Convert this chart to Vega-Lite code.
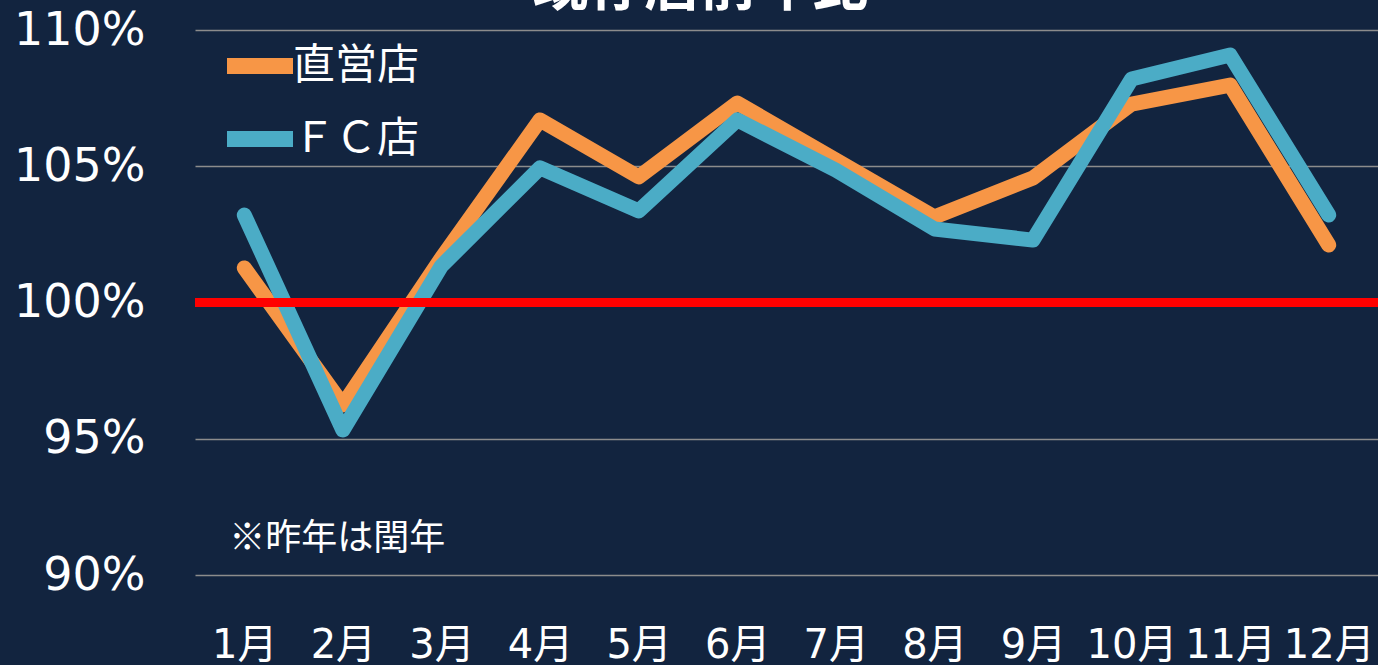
{
  "$schema": "https://vega.github.io/schema/vega-lite/v6.json",
  "autosize": {"type": "none"},
  "width": 1183,
  "height": 545,
  "padding": {"left": 195, "top": 30, "right": 0, "bottom": 90},
  "background": "#12243F",
  "config": {
    "view": {"stroke": null},
    "font": "DejaVu Sans, Noto Sans CJK JP"
  },
  "data": {
    "values": [
      {"month": "1月", "series": "直営店", "ratio": 1.0127},
      {"month": "2月", "series": "直営店", "ratio": 0.9624},
      {"month": "3月", "series": "直営店", "ratio": 1.0163},
      {"month": "4月", "series": "直営店", "ratio": 1.0670},
      {"month": "5月", "series": "直営店", "ratio": 1.0461},
      {"month": "6月", "series": "直営店", "ratio": 1.0732},
      {"month": "7月", "series": "直営店", "ratio": 1.0523},
      {"month": "8月", "series": "直営店", "ratio": 1.0314},
      {"month": "9月", "series": "直営店", "ratio": 1.0457},
      {"month": "10月", "series": "直営店", "ratio": 1.0728},
      {"month": "11月", "series": "直営店", "ratio": 1.0798},
      {"month": "12月", "series": "直営店", "ratio": 1.0211},
      {"month": "1月", "series": "ＦＣ店", "ratio": 1.0321},
      {"month": "2月", "series": "ＦＣ店", "ratio": 0.9532},
      {"month": "3月", "series": "ＦＣ店", "ratio": 1.0134},
      {"month": "4月", "series": "ＦＣ店", "ratio": 1.0494},
      {"month": "5月", "series": "ＦＣ店", "ratio": 1.0336},
      {"month": "6月", "series": "ＦＣ店", "ratio": 1.0670},
      {"month": "7月", "series": "ＦＣ店", "ratio": 1.0486},
      {"month": "8月", "series": "ＦＣ店", "ratio": 1.0270},
      {"month": "9月", "series": "ＦＣ店", "ratio": 1.0229},
      {"month": "10月", "series": "ＦＣ店", "ratio": 1.0820},
      {"month": "11月", "series": "ＦＣ店", "ratio": 1.0908},
      {"month": "12月", "series": "ＦＣ店", "ratio": 1.0321}
    ]
  },
  "layer": [
    {
      "mark": {"type": "line", "strokeWidth": 15, "strokeCap": "round", "strokeJoin": "round"},
      "encoding": {
        "x": {
          "field": "month",
          "type": "ordinal",
          "sort": null,
          "scale": {"type": "point", "padding": 0.5},
          "axis": {
            "title": null,
            "labelAngle": 0,
            "labelFontSize": 40,
            "labelColor": "#FFFFFF",
            "labelPadding": 50,
            "ticks": false,
            "domain": false,
            "grid": false
          }
        },
        "y": {
          "field": "ratio",
          "type": "quantitative",
          "scale": {"domain": [0.9, 1.1], "nice": false, "zero": false},
          "axis": {
            "title": null,
            "values": [0.9, 0.95, 1.0, 1.05, 1.1],
            "format": ".0%",
            "labelFontSize": 46,
            "labelColor": "#FFFFFF",
            "labelPadding": 50,
            "ticks": false,
            "domain": false,
            "grid": true,
            "gridColor": "#8C8C8C",
            "gridWidth": 1.5,
            "gridOpacity": 1
          }
        },
        "color": {
          "field": "series",
          "type": "nominal",
          "scale": {"domain": ["直営店", "ＦＣ店"], "range": ["#F79646", "#4BACC6"]},
          "legend": {
            "title": null,
            "orient": "none",
            "legendX": 24,
            "legendY": -5,
            "symbolType": "stroke",
            "symbolSize": 4356,
            "symbolStrokeWidth": 16,
            "symbolOpacity": 1,
            "labelFontSize": 42,
            "labelColor": "#FFFFFF",
            "labelFont": "Noto Sans CJK JP",
            "labelOffset": -8,
            "rowPadding": 0
          }
        },
        "order": {"field": "series", "sort": "descending"}
      }
    },
    {
      "mark": {"type": "rule", "color": "#FF0000", "strokeWidth": 8},
      "encoding": {"y": {"datum": 1.0}}
    },
    {
      "data": {"values": [{"note": "※昨年は閏年"}]},
      "mark": {"type": "text", "fontSize": 36, "color": "#FFFFFF", "align": "left", "baseline": "middle", "dx": -15, "dy": 4, "font": "Noto Sans CJK JP"},
      "encoding": {"x": {"datum": "1月"}, "y": {"datum": 0.9147}, "text": {"field": "note"}}
    },
    {
      "data": {"values": [{"title": "既存店前年比"}]},
      "mark": {"type": "text", "fontSize": 56, "fontWeight": "bold", "color": "#FFFFFF", "align": "center", "baseline": "alphabetic", "dx": -37, "font": "Noto Sans CJK JP"},
      "encoding": {"x": {"datum": "6月"}, "y": {"datum": 1.1092}, "text": {"field": "title"}}
    }
  ]
}
